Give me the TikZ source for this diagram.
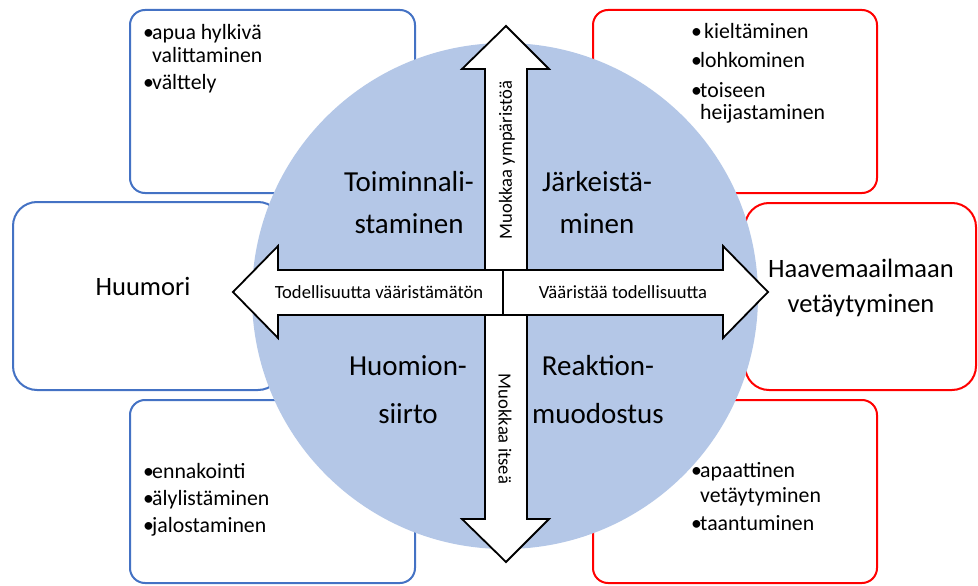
\documentclass[tikz,border=0pt]{standalone}
\usepackage{fontspec}
\setmainfont{Carlito}
\definecolor{circfill}{HTML}{B4C7E7}
\definecolor{bblue}{HTML}{4472C4}
\definecolor{rred}{HTML}{FF0000}
\newcommand{\bul}{\makebox[9pt][l]{•}}
\begin{document}
\begin{tikzpicture}[x=1pt,y=-1pt,
  bluebox/.style={draw=bblue,line width=2pt,fill=white},
  redbox/.style={draw=rred,line width=2pt,fill=white},
  arrowshape/.style={draw=black,line width=1.8pt,fill=white,line join=miter},
  item/.style={anchor=base west,inner sep=0pt,font=\fontsize{21.8}{24}\selectfont},
  big/.style={anchor=base,inner sep=0pt,font=\fontsize{29}{32}\selectfont},
  mid/.style={anchor=base,inner sep=0pt,font=\fontsize{26.5}{30}\selectfont},
  arr/.style={inner sep=0pt,font=\fontsize{18.6}{20}\selectfont}]
\useasboundingbox (0,0) rectangle (978,586);
% boxes
\draw[bluebox,rounded corners=15pt] (130,10) rectangle (415,193);
\draw[redbox,rounded corners=15pt] (593,10) rectangle (877,193);
\draw[bluebox,rounded corners=24pt] (13,202) rectangle (282,390);
\draw[redbox,rounded corners=24pt] (745,203) rectangle (976,390);
\draw[bluebox,rounded corners=15pt] (130,400) rectangle (415,583);
\draw[redbox,rounded corners=15pt] (593,400) rectangle (877,583);
% circle
\fill[circfill] (505,296) circle[radius=253pt];
% arrows
\draw[arrowshape] (485,270)--(485,69)--(462,69)--(506,26)--(549,69)--(527,69)--(527,270)--cycle;
\draw[arrowshape] (485,315)--(485,519)--(462,519)--(506,562)--(549,519)--(527,519)--(527,315)--cycle;
\draw[arrowshape] (503,270)--(278,270)--(278,246)--(233,292)--(278,338)--(278,315)--(503,315)--cycle;
\draw[arrowshape] (503,270)--(723,270)--(723,246)--(768,292)--(723,338)--(723,315)--(503,315)--cycle;
% arrow texts
\node[arr,anchor=base] (tL) at (379,298) {Todellisuutta vääristämätön};
\node[arr,anchor=base] (tR) at (623,298) {Vääristää todellisuutta};
\node[arr,rotate=90] (tU) at (507,160) {Muokkaa ympäristöä};
\node[arr,rotate=-90] (tD) at (505,429) {Muokkaa itseä};
% circle labels
\node[big] (q1a) at (409,191) {Toiminnali-};
\node[big] (q1b) at (409,233) {staminen};
\node[big] (q2a) at (597,191) {Järkeistä-};
\node[big] (q2b) at (597,233) {minen};
\node[big] (q3a) at (408,375) {Huomion-};
\node[big] (q3b) at (408,423) {siirto};
\node[big] (q4a) at (598,375) {Reaktion-};
\node[big] (q4b) at (598,423) {muodostus};
% middle boxes
\node[mid] (hu) at (143,295) {Huumori};
\node[mid] (ha1) at (861,277) {Haavemaailmaan};
\node[mid] (ha2) at (861,312) {vetäytyminen};
% top-left list
\node[item] (tl1) at (143,40) {\bul apua hylkivä};
\node[item] (tl2) at (152,63) {valittaminen};
\node[item] (tl3) at (143,89) {\bul välttely};
% top-right list
\node[item] (tr1) at (691,39) {\bul\hspace{4pt}kieltäminen};
\node[item] (tr2) at (691,67) {\bul lohkominen};
\node[item] (tr3) at (691,97) {\bul toiseen};
\node[item] (tr4) at (700,120) {heijastaminen};
% bottom-left list
\node[item] (bl1) at (143,478) {\bul ennakointi};
\node[item] (bl2) at (143,505) {\bul älylistäminen};
\node[item] (bl3) at (143,532) {\bul jalostaminen};
% bottom-right list
\node[item] (br1) at (691,477) {\bul apaattinen};
\node[item] (br2) at (700,502) {vetäytyminen};
\node[item] (br3) at (691,530) {\bul taantuminen};
\end{tikzpicture}
\end{document}
